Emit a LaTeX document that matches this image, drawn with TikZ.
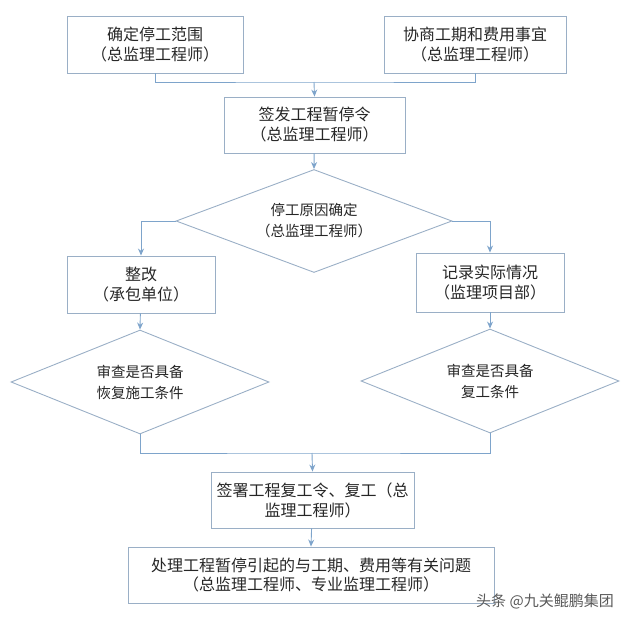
\documentclass[tikz,border=0pt]{standalone}
\usepackage{fontspec}
\newfontfamily\cjk{Noto Sans CJK SC}
\usepackage{tikz}
\usetikzlibrary{arrows.meta,calc,shapes.geometric,positioning}
\definecolor{boxline}{HTML}{9AAFC6}
\definecolor{linkline}{HTML}{7EA4CB}

\begin{document}
\begin{tikzpicture}[x=1pt,y=-1pt]
    \tikzset{StepBox/.style = {draw=boxline, line width=0.9pt,
        text = black!85, align=center, inner sep=0pt,
        font = \cjk\fontsize{16}{20}\selectfont},
      CheckBox/.style = {draw=boxline, line width=0.9pt, diamond, aspect=2.5,
        text = black!85, align=center, inner sep=0pt,
        font = \cjk\fontsize{14.5}{21}\selectfont},
      Link/.style = {draw=linkline, line width=0.9pt},
      LinkArrow/.style = {Link, -{Stealth[length=7pt,width=6pt]}}}
    \useasboundingbox (0,0) rectangle (632,624);
    \node[StepBox, minimum width=176, minimum height=57] (scope) at (155,44.5)
      {确定停工范围\\（总监理工程师）};
    \node[StepBox, minimum width=182, minimum height=57] (talks) at (475,44.5)
      {协商工期和费用事宜\\（总监理工程师）};
    \node[StepBox, minimum width=181, minimum height=56] (halt) at (314.5,125)
      {签发工程暂停令\\（总监理工程师）};
    \node[CheckBox, minimum width=276, minimum height=103] (cause) at (314,221)
      {停工原因确定\\（总监理工程师）};
    \node[StepBox, minimum width=148, minimum height=57] (fix) at (141,284.5)
      {整改\\（承包单位）};
    \node[StepBox, minimum width=148, minimum height=59] (record) at (490,282.5)
      {记录实际情况\\（监理项目部）};
    \node[CheckBox, minimum width=258, minimum height=104] (checkA) at (140,382)
      {审查是否具备\\恢复施工条件};
    \node[CheckBox, minimum width=258, minimum height=104] (checkB) at (490,381)
      {审查是否具备\\复工条件};
    \node[StepBox, minimum width=203, minimum height=56] (resume) at (312.5,500)
      {签署工程复工令、复工（总\\监理工程师）};
    \node[StepBox, minimum width=366, minimum height=56] (settle) at (311,575)
      {处理工程暂停引起的与工期、费用等有关问题\\（总监理工程师、专业监理工程师）};
    \node[text=black!65, font=\cjk\fontsize{15}{18}\selectfont] (mark) at (545,601)
      {头条 @九关鲲鹏集团};
    % joints of the merging lines
    \coordinate (topjoin) at (314,82);
    \coordinate (lowjoin) at (312,453);
    \draw[Link] (scope.south) |- (topjoin) -| (talks.south);
    \draw[LinkArrow] (topjoin) -- (halt.north);
    \draw[LinkArrow] (halt) -- (cause.north);
    \draw[LinkArrow] (cause.west) -| (fix.north);
    \draw[LinkArrow] (cause.east) -| (record.north);
    \draw[LinkArrow] (fix) -- (checkA.north);
    \draw[LinkArrow] (record) -- (checkB.north);
    \draw[Link] (checkA.south) |- (lowjoin) -| (checkB.south);
    \draw[LinkArrow] (lowjoin) -- (resume.north);
    \draw[LinkArrow] (resume) -- (settle.north);
\end{tikzpicture}
\end{document}
